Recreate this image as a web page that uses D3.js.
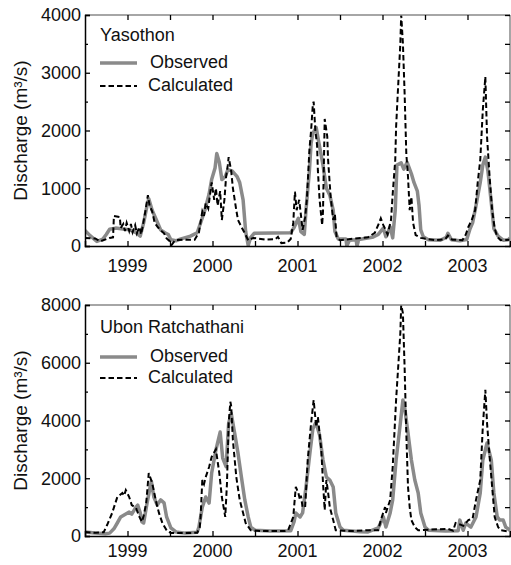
<!DOCTYPE html>
<html lang="en">
<head>
<meta charset="UTF-8">
<title>Discharge</title>
<style>
  body { margin: 0; background: #fff; }
  text { font-family: Arial, "Liberation Sans", sans-serif; fill: #111; }
  .obs { fill: none; stroke: #8a8a8a; stroke-width: 3.5px; stroke-linejoin: round; }
  .calc { fill: none; stroke: #000; stroke-width: 2px; stroke-dasharray: 5.5,3; }
</style>
</head>
<body>
<script src="https://d3js.org/d3.v7.min.js"></script>
<script>
// time in decimal years, discharge in m3/s
const yasObs = [
  [1999.00,270],[1999.06,180],[1999.14,80],[1999.21,120],[1999.25,200],[1999.29,290],[1999.36,310],
  [1999.47,290],[1999.53,280],[1999.60,230],[1999.65,170],[1999.69,400],[1999.73,700],[1999.75,820],
  [1999.79,620],[1999.84,450],[1999.89,280],[1999.94,230],[1999.98,200],[2000.01,110],[2000.07,90],
  [2000.12,120],[2000.24,170],[2000.32,230],[2000.36,400],[2000.41,620],[2000.46,900],[2000.49,1150],
  [2000.53,1350],[2000.55,1600],[2000.58,1450],[2000.61,1150],[2000.65,1200],[2000.68,1320],
  [2000.73,1300],[2000.79,1200],[2000.82,1100],[2000.86,800],[2000.89,250],[2000.92,10],[2000.95,150],
  [2000.99,220],[2001.42,230],[2001.46,320],[2001.51,480],[2001.54,250],[2001.58,200],[2001.60,620],
  [2001.64,1300],[2001.66,1780],[2001.68,1950],[2001.72,2050],[2001.75,1800],[2001.80,1400],
  [2001.84,1000],[2001.88,880],[2001.92,620],[2001.94,250],[2001.98,120],[2002.07,120],[2002.08,0],
  [2002.11,100],[2002.19,110],[2002.20,0],[2002.22,110],[2002.29,130],[2002.38,150],[2002.45,200],
  [2002.51,310],[2002.54,160],[2002.59,330],[2002.62,140],[2002.65,620],[2002.67,1400],[2002.72,1440],
  [2002.75,1330],[2002.79,1450],[2002.84,1250],[2002.87,1100],[2002.91,950],[2002.93,700],
  [2002.95,280],[2002.98,160],[2003.04,110],[2003.18,100],[2003.25,150],[2003.27,220],[2003.31,110],
  [2003.41,90],[2003.49,110],[2003.53,300],[2003.56,400],[2003.60,700],[2003.65,1100],[2003.68,1400],
  [2003.71,1540],[2003.74,1300],[2003.78,750],[2003.81,300],[2003.86,170],[2003.92,100],[2003.98,110],
  [2004.00,140]
];
const yasCalc = [
  [1999.00,140],[1999.12,130],[1999.18,80],[1999.29,140],[1999.33,150],[1999.34,520],[1999.41,500],
  [1999.42,310],[1999.45,380],[1999.47,260],[1999.49,400],[1999.52,260],[1999.54,380],[1999.56,240],
  [1999.59,360],[1999.61,220],[1999.64,330],[1999.66,200],[1999.68,350],[1999.71,600],[1999.74,880],
  [1999.76,700],[1999.79,600],[1999.82,400],[1999.86,320],[1999.89,270],[1999.93,220],[1999.96,130],
  [2000.00,80],[2000.02,20],[2000.06,100],[2000.18,110],[2000.29,110],[2000.34,230],[2000.38,600],
  [2000.40,520],[2000.42,740],[2000.45,650],[2000.47,880],[2000.49,1100],[2000.52,800],[2000.54,1000],
  [2000.56,700],[2000.59,950],[2000.61,450],[2000.64,800],[2000.66,1200],[2000.68,1400],[2000.69,1540],
  [2000.72,1300],[2000.74,1000],[2000.78,620],[2000.80,450],[2000.84,330],[2000.88,220],[2000.92,100],
  [2000.98,140],[2001.12,110],[2001.24,120],[2001.27,160],[2001.31,50],[2001.38,60],[2001.42,120],
  [2001.45,400],[2001.47,940],[2001.49,620],[2001.52,800],[2001.54,540],[2001.56,280],[2001.59,500],
  [2001.61,800],[2001.64,1660],[2001.66,2000],[2001.68,2440],[2001.69,2500],[2001.71,2000],
  [2001.73,1750],[2001.74,1300],[2001.76,800],[2001.79,360],[2001.80,600],[2001.82,2200],[2001.85,1900],
  [2001.86,1490],[2001.88,1060],[2001.89,850],[2001.92,450],[2001.94,550],[2001.96,150],[2002.00,100],
  [2002.12,120],[2002.24,140],[2002.33,150],[2002.41,230],[2002.46,400],[2002.48,480],[2002.51,360],
  [2002.53,300],[2002.56,200],[2002.60,450],[2002.62,900],[2002.65,1490],[2002.66,2060],[2002.68,2650],
  [2002.71,3510],[2002.72,4000],[2002.74,3510],[2002.76,2650],[2002.78,1600],[2002.80,1200],
  [2002.82,620],[2002.84,850],[2002.86,400],[2002.89,190],[2002.95,140],[2003.12,100],[2003.24,120],
  [2003.27,180],[2003.32,110],[2003.44,100],[2003.48,200],[2003.51,330],[2003.55,450],[2003.59,620],
  [2003.62,1100],[2003.65,1490],[2003.68,2350],[2003.71,2930],[2003.73,1890],[2003.76,1200],
  [2003.79,620],[2003.82,300],[2003.85,160],[2003.89,100],[2004.00,110]
];
const ubonObs = [
  [1999.00,140],[1999.12,100],[1999.24,80],[1999.29,100],[1999.34,250],[1999.38,450],[1999.42,660],
  [1999.46,730],[1999.52,830],[1999.55,760],[1999.60,1000],[1999.62,1070],[1999.65,800],[1999.67,490],
  [1999.69,450],[1999.73,1140],[1999.78,1900],[1999.81,1350],[1999.85,1070],[1999.89,1250],
  [1999.93,1150],[1999.96,660],[2000.01,280],[2000.07,140],[2000.18,100],[2000.32,130],[2000.34,310],
  [2000.38,1000],[2000.42,1350],[2000.46,1140],[2000.49,2180],[2000.54,2980],[2000.59,3600],
  [2000.62,2700],[2000.66,2400],[2000.69,3900],[2000.72,4250],[2000.76,3570],[2000.80,2870],
  [2000.84,2040],[2000.88,1250],[2000.92,660],[2000.95,310],[2001.00,200],[2001.18,170],[2001.42,180],
  [2001.46,500],[2001.48,800],[2001.53,660],[2001.56,800],[2001.60,1700],[2001.65,2980],[2001.68,3700],
  [2001.71,3900],[2001.73,3800],[2001.76,3500],[2001.80,2630],[2001.84,2040],[2001.88,1940],
  [2001.92,1700],[2001.95,800],[2002.00,310],[2002.04,200],[2002.24,150],[2002.33,140],[2002.45,280],
  [2002.51,660],[2002.54,310],[2002.59,800],[2002.62,1250],[2002.66,2630],[2002.71,3910],[2002.74,4710],
  [2002.76,4470],[2002.80,3570],[2002.84,2630],[2002.88,1940],[2002.92,1490],[2002.95,800],
  [2003.00,310],[2003.04,200],[2003.24,170],[2003.39,180],[2003.41,550],[2003.45,200],[2003.48,450],
  [2003.54,310],[2003.60,660],[2003.65,1490],[2003.68,2630],[2003.73,3220],[2003.78,2630],
  [2003.81,1490],[2003.85,660],[2003.88,550],[2003.92,550],[2003.95,310],[2004.00,200]
];
const ubonCalc = [
  [1999.00,140],[1999.12,110],[1999.22,130],[1999.26,380],[1999.32,800],[1999.38,1350],[1999.44,1490],
  [1999.46,1400],[1999.48,1590],[1999.52,1350],[1999.55,1070],[1999.60,970],[1999.64,660],[1999.67,490],
  [1999.69,700],[1999.72,1140],[1999.75,2180],[1999.79,1840],[1999.84,1140],[1999.87,800],[1999.91,450],
  [1999.96,200],[2000.01,100],[2000.32,110],[2000.35,300],[2000.36,660],[2000.38,1940],[2000.40,1800],
  [2000.42,2040],[2000.46,2390],[2000.49,2740],[2000.54,3000],[2000.58,2180],[2000.61,1350],
  [2000.65,660],[2000.67,1800],[2000.69,3910],[2000.71,4650],[2000.72,4500],[2000.74,3320],
  [2000.78,2040],[2000.82,1250],[2000.86,800],[2000.89,450],[2000.95,200],[2001.06,170],[2001.35,170],
  [2001.39,200],[2001.45,660],[2001.48,1700],[2001.51,1490],[2001.53,1250],[2001.54,1400],[2001.56,1000],
  [2001.59,1000],[2001.62,2630],[2001.66,3910],[2001.69,4710],[2001.72,3780],[2001.74,4120],
  [2001.78,2980],[2001.80,1840],[2001.82,900],[2001.84,1940],[2001.86,1500],[2001.88,1000],
  [2001.92,550],[2001.95,200],[2002.12,170],[2002.33,200],[2002.45,200],[2002.48,550],[2002.53,1000],
  [2002.54,800],[2002.59,1250],[2002.62,2390],[2002.66,4710],[2002.71,7030],[2002.72,8000],
  [2002.74,7720],[2002.76,5850],[2002.78,3570],[2002.80,1700],[2002.82,1000],[2002.84,550],
  [2002.88,310],[2002.92,200],[2003.27,250],[2003.33,180],[2003.36,450],[2003.41,400],[2003.45,350],
  [2003.51,550],[2003.56,600],[2003.60,1250],[2003.65,1940],[2003.68,3780],[2003.71,5060],
  [2003.73,3910],[2003.76,2740],[2003.79,1700],[2003.82,660],[2003.86,310],[2003.89,200],[2004.00,150]
];

const yearLabels = ["1999", "2000", "2001", "2002", "2003"];
const yasTicks = [0, 1000, 2000, 3000, 4000];
const yasMinor = [500, 1500, 2500, 3500];
const ubonTicks = [0, 2000, 4000, 6000, 8000];
const ubonMinor = [1000, 3000, 5000, 7000];

const W = 511, H = 565;
const left = 85, right = 510;

const svg = d3.select('body').append('svg')
  .attr('width', W)
  .attr('height', H);

const x = d3.scaleLinear().domain([1999, 2004]).range([left, right]);
const halfYears = d3.range(1999.5, 2004, 0.5);

function panel(opt) {
  const y = d3.scaleLinear().domain([0, opt.ticks[opt.ticks.length - 1]]).range([opt.bottom, opt.top]);
  const g = svg.append('g');

  const clipId = 'clip' + opt.id;
  svg.append('clipPath').attr('id', clipId)
    .append('rect')
    .attr('x', left).attr('y', opt.top)
    .attr('width', right - left).attr('height', opt.bottom - opt.top);

  const line = d3.line()
    .x(d => x(d[0]))
    .y(d => y(d[1]));

  const plot = g.append('g').attr('clip-path', `url(#${clipId})`);
  plot.append('path').datum(opt.obs).attr('class', 'obs').attr('d', line);
  plot.append('path').datum(opt.calc).attr('class', 'calc').attr('d', line);

  // frame: gray top/right, black left/bottom
  g.append('line').attr('x1', left).attr('x2', right).attr('y1', opt.top).attr('y2', opt.top)
    .attr('stroke', '#888').attr('stroke-width', 1.5);
  g.append('line').attr('x1', right).attr('x2', right).attr('y1', opt.top).attr('y2', opt.bottom)
    .attr('stroke', '#888').attr('stroke-width', 1.5);

  // y axes
  const yl = g.append('g').attr('transform', `translate(${left},0)`)
    .call(d3.axisLeft(y).tickValues(opt.ticks).tickSize(-5).tickPadding(4).tickFormat(d3.format('d')));
  g.append('g').attr('transform', `translate(${left},0)`)
    .call(d3.axisLeft(y).tickValues(opt.minor).tickSize(-3).tickFormat(''))
    .select('.domain').remove();
  g.append('g').attr('transform', `translate(${right},0)`)
    .call(d3.axisRight(y).tickValues(opt.ticks.concat(opt.minor)).tickSize(-5).tickFormat(''))
    .select('.domain').remove();

  // x axes
  const xb = g.append('g').attr('transform', `translate(0,${opt.bottom})`)
    .call(d3.axisBottom(x).tickValues(halfYears).tickSize(-5).tickFormat(''));
  g.append('g').attr('transform', `translate(0,${opt.top})`)
    .call(d3.axisTop(x).tickValues(halfYears).tickSize(-5).tickFormat(''))
    .select('.domain').remove();

  [yl, xb].forEach(a => {
    a.select('.domain').attr('stroke', '#000').attr('stroke-width', 1.5);
  });
  g.selectAll('.tick line').attr('stroke', '#000').attr('stroke-width', 1.3);
  yl.selectAll('text').attr('font-size', 18).attr('fill', '#111');

  // year labels at mid-year
  g.selectAll('.yr').data(yearLabels).join('text')
    .attr('x', d => x(+d + 0.5))
    .attr('y', opt.bottom + opt.yrDy)
    .attr('text-anchor', 'middle')
    .attr('font-size', 18)
    .text(d => d);

  // y label
  g.append('text')
    .attr('transform', `translate(27,${(opt.top + opt.bottom) / 2}) rotate(-90)`)
    .attr('text-anchor', 'middle')
    .attr('font-size', 19)
    .text('Discharge (m³/s)');

  // legend
  g.append('text').attr('x', 100).attr('y', opt.top + opt.leg[0]).attr('font-size', 18).text(opt.name);
  g.append('line').attr('class', 'obs')
    .attr('x1', 100).attr('x2', 137).attr('y1', opt.top + opt.leg[1]).attr('y2', opt.top + opt.leg[1]);
  g.append('text').attr('x', 150).attr('y', opt.top + opt.leg[1] + 5).attr('font-size', 18).text('Observed');
  g.append('line').attr('class', 'calc')
    .attr('x1', 100).attr('x2', 137).attr('y1', opt.top + opt.leg[2]).attr('y2', opt.top + opt.leg[2]);
  g.append('text').attr('x', 148).attr('y', opt.top + opt.leg[2] + 5).attr('font-size', 18).text('Calculated');
}

panel({ id: 1, top: 15, bottom: 246, ticks: yasTicks, minor: yasMinor, obs: yasObs, calc: yasCalc,
  name: 'Yasothon', yrDy: 26, leg: [26, 48, 71] });
panel({ id: 2, top: 305, bottom: 536, ticks: ubonTicks, minor: ubonMinor, obs: ubonObs, calc: ubonCalc,
  name: 'Ubon Ratchathani', yrDy: 21, leg: [28, 52, 73] });
</script>
</body>
</html>
